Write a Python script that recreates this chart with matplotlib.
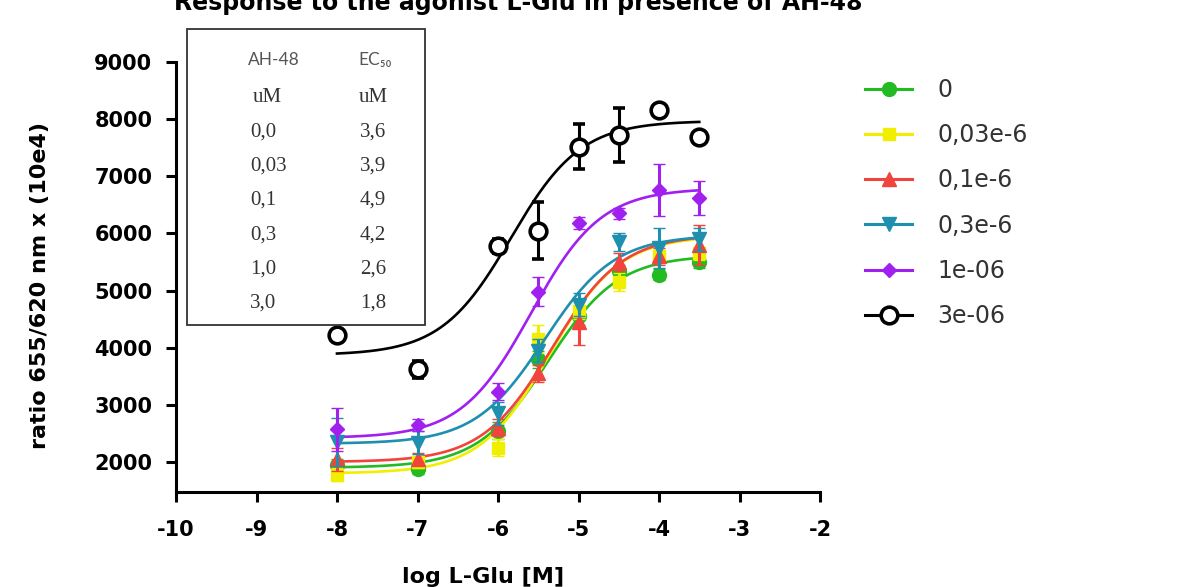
import matplotlib.pyplot as plt
import numpy as np
from matplotlib.lines import Line2D
from matplotlib.patches import Rectangle

plt.rcParams["axes.unicode_minus"] = False

# L-Glu concentrations (log M)
log_glu = [-8, -7, -6, -5.5, -5, -4.5, -4, -3.5]

# AH-48 series: legend labels, colours, markers
ah48_labels = ["0", "0,03e-6", "0,1e-6", "0,3e-6", "1e-06", "3e-06"]
colors = ["#22bb22", "#f2ee00", "#f0443c", "#1f8fb0", "#a020f0", "black"]
markers = ["o", "s", "^", "v", "D", "o"]
msizes = [10, 9, 10, 10, 7.5, 12]

# mean responses and SEM for each AH-48 concentration
resp_0 = [1950, 1870, 2550, 3800, 4550, 5350, 5280, 5500]
sem_0 = [100, 80, 150, 150, 150, 100, 100, 100]
resp_003 = [1780, 2000, 2250, 4150, 4650, 5150, 5600, 5650]
sem_003 = [120, 100, 150, 250, 150, 150, 100, 120]
resp_01 = [2050, 2050, 2600, 3550, 4450, 5500, 5600, 5800]
sem_01 = [200, 100, 150, 150, 400, 150, 150, 350]
resp_03 = [2350, 2340, 2850, 3950, 4750, 5850, 5750, 5900]
sem_03 = [420, 200, 200, 200, 200, 150, 350, 200]
resp_1 = [2570, 2650, 3230, 4980, 6180, 6350, 6760, 6620]
sem_1 = [370, 100, 150, 250, 100, 100, 450, 300]
resp_3 = [4230, 3620, 5780, 6050, 7520, 7720, 8160, 7680]
sem_3 = [60, 150, 120, 500, 400, 470, 60, 60]

responses = [resp_0, resp_003, resp_01, resp_03, resp_1, resp_3]
sems = [sem_0, sem_003, sem_01, sem_03, sem_1, sem_3]

# 4-parameter logistic fit parameters
fit_bottom = [1900, 1800, 2000, 2320, 2420, 3870]
fit_top = [5620, 5960, 5980, 5970, 6790, 7970]
fit_logec50 = [-5.38, -5.36, -5.33, -5.42, -5.59, -5.84]
fit_hill = [1.0, 1.0, 1.0, 1.0, 1.0, 1.0]

# inset table
ah48_um = ["0,0", "0,03", "0,1", "0,3", "1,0", "3,0"]
ec50_um = ["3,6", "3,9", "4,9", "4,2", "2,6", "1,8"]


def logistic(x, bottom, top, logec50, hill):
    return bottom + (top - bottom) / (1 + 10 ** ((logec50 - x) * hill))


W, H = 1184, 587
fig = plt.figure(figsize=(W / 100, H / 100), dpi=100)
ax = fig.add_axes([176 / W, 1 - 492 / H, 644 / W, 430 / H])


def px(x, y):
    return x / W, 1 - y / H


xfit = np.linspace(-8, -3.5, 200)
handles = []
for i in range(len(responses)):
    c = colors[i]
    ax.plot(xfit, logistic(xfit, fit_bottom[i], fit_top[i], fit_logec50[i], fit_hill[i]),
            color=c, lw=1.9, zorder=2 + i)
    if i == 5:
        face, mew = "white", 2.6
    else:
        face, mew = c, 1
    ax.errorbar(log_glu, responses[i], yerr=sems[i], fmt=markers[i], color=c,
                ms=msizes[i], mfc=face, mec=c, mew=mew, elinewidth=2.2,
                capsize=4.5, capthick=2.2, zorder=3 + i)
    handles.append(Line2D([], [], color=c, lw=2.2, marker=markers[i], ms=msizes[i],
                          mfc=face, mec=c, mew=mew, label=ah48_labels[i]))

ax.set_xlim(-10, -2)
ax.set_ylim(1475, 9000)
ax.set_xticks(np.arange(-10, -1, 1))
ax.set_yticks(np.arange(2000, 9001, 1000))
for s in ["top", "right"]:
    ax.spines[s].set_visible(False)
for s in ["left", "bottom"]:
    ax.spines[s].set_linewidth(2.2)
ax.tick_params(width=2.2, length=7, labelsize=15)
ax.tick_params(axis="x", pad=13)
ax.tick_params(axis="y", pad=10)
for lab in ax.get_xticklabels() + ax.get_yticklabels():
    lab.set_fontweight("bold")

ax.set_xlabel("log L-Glu [M]", fontsize=16, fontweight="bold", va="center")
ax.xaxis.set_label_coords(0.477, -0.198)
ax.set_ylabel("ratio 655/620 nm x (10e4)", fontsize=16, fontweight="bold", va="center")
ax.yaxis.set_label_coords(-0.211, 0.48)

fig.text(518 / W, 1 - 10 / H, "Response to the agonist L-Glu in presence of AH-48",
         ha="center", va="baseline", fontsize=17, fontweight="bold")

# inset table with EC50 values
x0, y0 = px(187, 325)
fig.patches.append(Rectangle((x0, y0), 238 / W, 296 / H, transform=fig.transFigure,
                             facecolor="white", edgecolor="#333333", lw=1.3, zorder=5))
fig.text(*px(274, 60), "AH-48", ha="center", va="center", fontsize=12.5,
         family="Lato", color="#555555", zorder=6)
fig.text(*px(375, 60), "EC₅₀", ha="center", va="center", fontsize=12.5,
         family=["Lato", "DejaVu Sans"], color="#555555", zorder=6)
fig.text(*px(267, 98), "uM", ha="center", va="center", fontsize=15,
         family="Liberation Serif", color="#333333", zorder=6)
fig.text(*px(373, 98), "uM", ha="center", va="center", fontsize=15,
         family="Liberation Serif", color="#333333", zorder=6)
for k in range(len(ah48_um)):
    yy = 132 + k * 34.2
    fig.text(*px(250, yy), ah48_um[k], ha="left", va="center", fontsize=15,
             family="Liberation Serif", color="#333333", zorder=6)
    fig.text(*px(373, yy), ec50_um[k], ha="center", va="center", fontsize=15,
             family="Liberation Serif", color="#333333", zorder=6)

leg = fig.legend(handles=handles, loc="upper left", bbox_to_anchor=px(865, 78),
                 frameon=False, fontsize=17, labelspacing=0.9, handlelength=2.0,
                 handletextpad=1.06, borderpad=0, borderaxespad=0)
for t in leg.get_texts():
    t.set_color("#333333")

fig.savefig("out.png", dpi=100)
